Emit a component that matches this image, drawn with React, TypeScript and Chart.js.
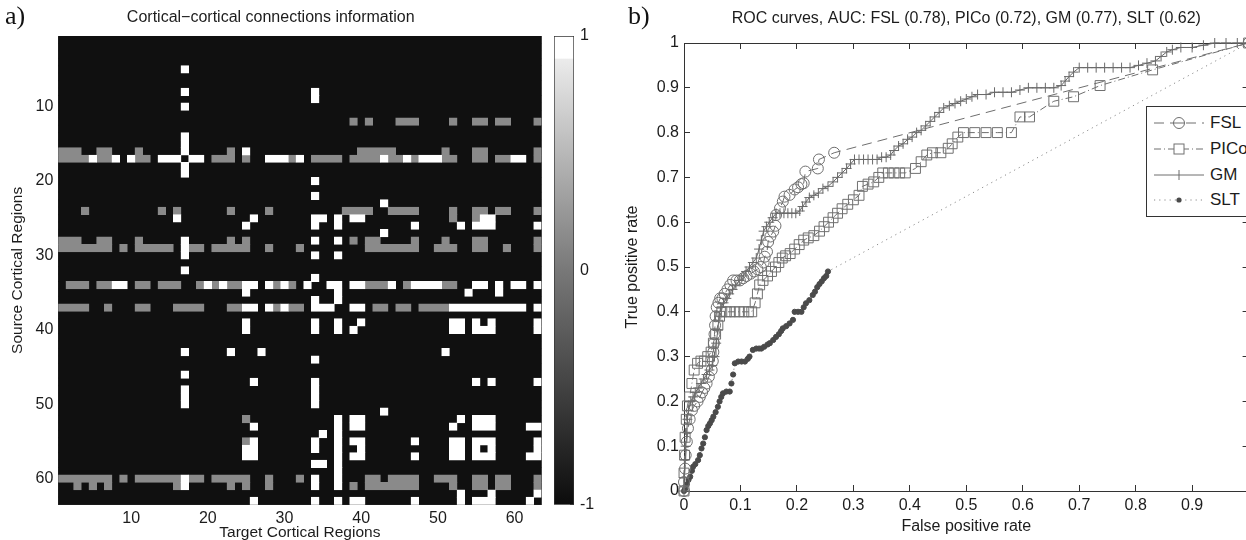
import React, { useEffect, useRef } from "react";
import { Chart, registerables } from "chart.js";

Chart.register(...registerables);

const SANS = '"Liberation Sans", Arial, Helvetica, sans-serif';
const TEXT = "#1c1c1c";

// ---------- Panel a: connection matrix ('.' = -1, 'g' = 0, 'w' = 1), rows = source, columns = target ----------
const E = ".......... .......... .......... .......... .......... .......... ...";
const heatRows: string[] = [
  E, // 1
  E, // 2
  E, // 3
  E, // 4
  ".......... ......w... .......... .......... .......... .......... ...", // 5
  E, // 6
  E, // 7
  ".......... ......w... .......... ...w...... .......... .......... ...", // 8
  ".......... .......... .......... ...w...... .......... .......... ...", // 9
  ".......... ......w... .......... .......... .......... .......... ...", // 10
  E, // 11
  ".......... .......... .......... ........g. g...ggg... .g..gg.gg. ..g", // 12
  E, // 13
  ".......... ......w... .......... .......... .......... .......... ...", // 14
  ".......... ......w... .......... .......... .......... .......... ...", // 15
  "ggg..gg... g.....w... ..g.w..... .........g gggg...... g...gg.... ..g", // 16
  "ggggwggw.w gg.www.ww. ggg.g..www gw.gggg.gg ggwggwgwww gg..gg.ggw w.g", // 17
  ".......... ......w... .......... .......... .......... .......... ...", // 18
  ".......... ......w... .......... .......... .......... .......... ...", // 19
  ".......... .......... .......... ...w...... .......... .......... ...", // 20
  E, // 21
  ".......... .......... .......... ...w...... .......... .......... ...", // 22
  ".......... .......... .......... .......... ..w....... .......... ...", // 23
  "...g...... ...g.g.... ..g....g.. .......ggg g..gggg... .g..gg.gg. ..g", // 24
  ".......... .....w.... .....w.... ...ww.w.ww .......... .g..gww... ...", // 25
  ".......... .......... ....w..... ...w..w... ......w... ..w.www... ..w", // 26
  ".......... .......... .......... .......... ..w....... .......... ...", // 27
  "ggg..gg... g.....w... ..g.g..... ...w..w.g. gg....g... g...gg.... ..g", // 28
  "ggggggg.g. ggggg.wgg. ggggg..g.. .g........ ggggggg..g gg..gg..g. ..g", // 29
  ".......... ......w... .......... ...w..w... .......... .......... ...", // 30
  E, // 31
  ".......... ......w... .......... .......... .......... .......... ...", // 32
  ".......... .......... .......... ...w...... .......... .......... ...", // 33
  ".ggg.ggww. gg.ggg..gw gwggww.wgw g.w..ww.ww gggw.gwwww gg..ww.w.w w.w", // 34
  ".......... .......... ....w..... ......w... .......... ...w...w.. ...", // 35
  ".......... .......... .......... ...w..w... .......... .......... ...", // 36
  "gggg..g... gg...gggg. ..ggww.wgw gg.www..ww .gg.gg.ggg gwwwwwwwww w.w", // 37
  E, // 38
  ".......... .......... ....w..... ...w..w..w .......... .ww.w.w... ..w", // 39
  ".......... .......... ....w..... ...w..w.w. .......... .ww.www... ..w", // 40
  E, // 41
  E, // 42
  ".......... ......w... ..w...w... .......... .......... w......... ...", // 43
  ".......... .......... .......... ...w...... .......... .......... ...", // 44
  E, // 45
  ".......... ......w... .......... .......... .......... .......... ...", // 46
  ".......... .......... .....w.... ...w...... .......... ....w.w... ..w", // 47
  ".......... ......w... .......... ...w...... .......... .......... ...", // 48
  ".......... ......w... .......... ...w...... .......... .......... ...", // 49
  ".......... ......w... .......... ...w...... .......... .......... ...", // 50
  ".......... .......... .......... .......... ..w....... .......... ...", // 51
  ".......... .......... ....g..... ......w.ww .......... ..w.www... ...", // 52
  ".......... .......... .....w.... ......w.ww .......... .w..www... .ww", // 53
  ".......... .......... .......... ....w.w... .......... .......... ...", // 54
  ".......... .......... ....gw.... ...w..w.ww ......w... .ww.www... ..w", // 55
  ".......... .......... ....ww.... ...w..w..w .......... .ww.w.w... ..w", // 56
  ".......... .......... ....ww.... ......w.ww ......w... .ww.www... .ww", // 57
  ".......... .......... .......... ...ww.w... .......... .......... ...", // 58
  ".......... .......... .......... ......w... .......... .......... ...", // 59
  "ggggggg.g. ggggggwgg. ggggg..g.. .g.w..w... gg.gggg..g gg..gg.gg. ..g", // 60
  "..g.g.g... .....gw... ..g.g..g.. ...w..w.g. ggggggg... .g..gg.gg. ..g", // 61
  ".......... .......... .......... .......... .......... ..w...w... ..w", // 62
  ".......... .......... .....w.... ...w..w.ww ......w... ..w.www... .w.", // 63
];
const heatTicks = [10, 20, 30, 40, 50, 60];
const colorbarTicks = [-1, -0.8, -0.6, -0.4, -0.2, 0, 0.2, 0.4, 0.6, 0.8, 1];
const colorbarLabelled = [-1, 0, 1];

// ---------- Panel b: ROC curves [false positive rate, true positive rate] ----------
const fslRoc: [number, number][] = [
  [0, 0], [0, 0.02], [0.002, 0.05], [0.003, 0.08], [0.005, 0.11], [0.007, 0.14], [0.01, 0.16],
  [0.014, 0.18], [0.018, 0.19], [0.024, 0.2], [0.028, 0.21], [0.032, 0.22], [0.036, 0.23],
  [0.04, 0.24], [0.044, 0.255], [0.049, 0.27], [0.051, 0.29], [0.052, 0.31], [0.053, 0.33],
  [0.054, 0.35], [0.055, 0.37], [0.056, 0.39], [0.058, 0.41], [0.061, 0.42], [0.064, 0.43],
  [0.068, 0.43], [0.072, 0.44], [0.077, 0.45], [0.082, 0.46], [0.087, 0.47], [0.093, 0.47],
  [0.099, 0.47], [0.105, 0.475], [0.111, 0.48], [0.118, 0.485], [0.124, 0.49], [0.13, 0.495],
  [0.136, 0.5], [0.141, 0.51], [0.143, 0.523], [0.147, 0.534], [0.149, 0.556], [0.153, 0.568],
  [0.158, 0.579], [0.162, 0.592], [0.163, 0.616], [0.17, 0.631], [0.175, 0.646], [0.178, 0.657],
  [0.187, 0.661], [0.196, 0.673], [0.202, 0.678], [0.208, 0.685], [0.212, 0.687], [0.215, 0.713],
  [0.237, 0.72], [0.239, 0.74], [0.266, 0.755], [1, 1],
];
const picoRoc: [number, number][] = [
  [0, 0], [0, 0.04], [0.001, 0.08], [0.002, 0.12], [0.004, 0.16], [0.006, 0.19], [0.01, 0.21],
  [0.014, 0.24], [0.018, 0.27], [0.024, 0.285], [0.03, 0.29], [0.036, 0.29], [0.042, 0.3],
  [0.048, 0.31], [0.052, 0.33], [0.056, 0.35], [0.06, 0.37], [0.063, 0.39], [0.067, 0.4],
  [0.075, 0.4], [0.082, 0.4], [0.09, 0.4], [0.098, 0.4], [0.106, 0.4], [0.114, 0.4], [0.12, 0.4],
  [0.126, 0.42], [0.13, 0.44], [0.134, 0.46], [0.14, 0.47], [0.148, 0.48], [0.155, 0.49],
  [0.162, 0.5], [0.168, 0.51], [0.174, 0.52], [0.18, 0.525], [0.188, 0.53], [0.196, 0.54],
  [0.204, 0.55], [0.212, 0.56], [0.22, 0.565], [0.23, 0.57], [0.24, 0.58], [0.248, 0.59],
  [0.256, 0.6], [0.264, 0.61], [0.272, 0.62], [0.28, 0.63], [0.29, 0.64], [0.3, 0.65],
  [0.31, 0.66], [0.316, 0.68], [0.326, 0.685], [0.336, 0.69], [0.345, 0.7], [0.352, 0.71],
  [0.362, 0.71], [0.372, 0.71], [0.382, 0.71], [0.392, 0.71], [0.41, 0.72], [0.42, 0.735],
  [0.43, 0.75], [0.44, 0.755], [0.455, 0.755], [0.468, 0.765], [0.475, 0.775], [0.485, 0.79],
  [0.495, 0.8], [0.515, 0.8], [0.535, 0.8], [0.555, 0.8], [0.58, 0.8], [0.595, 0.835],
  [0.612, 0.835], [0.655, 0.87], [0.69, 0.88], [0.737, 0.905], [0.83, 0.94], [1, 1],
];
const gmRoc: [number, number][] = [
  [0, 0], [0, 0.03], [0.002, 0.07], [0.003, 0.1], [0.005, 0.13], [0.006, 0.16], [0.008, 0.18],
  [0.012, 0.2], [0.016, 0.21], [0.02, 0.22], [0.025, 0.23], [0.03, 0.24], [0.035, 0.25],
  [0.04, 0.26], [0.045, 0.27], [0.05, 0.28], [0.054, 0.3], [0.057, 0.33], [0.06, 0.36],
  [0.062, 0.39], [0.065, 0.41], [0.07, 0.42], [0.075, 0.43], [0.08, 0.44], [0.086, 0.45],
  [0.092, 0.46], [0.098, 0.47], [0.105, 0.48], [0.11, 0.49], [0.116, 0.5], [0.122, 0.51],
  [0.128, 0.52], [0.133, 0.54], [0.137, 0.56], [0.141, 0.58], [0.146, 0.59], [0.151, 0.6],
  [0.157, 0.61], [0.163, 0.62], [0.17, 0.62], [0.177, 0.62], [0.184, 0.62], [0.191, 0.62],
  [0.198, 0.62], [0.205, 0.625], [0.21, 0.635], [0.216, 0.645], [0.222, 0.655], [0.23, 0.66],
  [0.238, 0.665], [0.246, 0.675], [0.255, 0.68], [0.264, 0.69], [0.272, 0.7], [0.28, 0.71],
  [0.288, 0.72], [0.295, 0.73], [0.302, 0.74], [0.31, 0.74], [0.318, 0.74], [0.326, 0.74],
  [0.334, 0.74], [0.342, 0.74], [0.35, 0.745], [0.358, 0.745], [0.366, 0.75], [0.372, 0.76],
  [0.38, 0.77], [0.388, 0.775], [0.396, 0.785], [0.404, 0.79], [0.412, 0.8], [0.42, 0.805],
  [0.428, 0.815], [0.436, 0.825], [0.444, 0.835], [0.452, 0.845], [0.46, 0.855], [0.47, 0.86],
  [0.48, 0.865], [0.49, 0.87], [0.5, 0.875], [0.51, 0.88], [0.52, 0.885], [0.535, 0.885],
  [0.55, 0.89], [0.565, 0.89], [0.58, 0.89], [0.595, 0.895], [0.61, 0.9], [0.625, 0.9],
  [0.64, 0.9], [0.655, 0.9], [0.668, 0.905], [0.675, 0.915], [0.682, 0.925], [0.69, 0.935],
  [0.7, 0.945], [0.715, 0.945], [0.73, 0.945], [0.745, 0.945], [0.76, 0.945], [0.775, 0.945],
  [0.79, 0.945], [0.805, 0.95], [0.82, 0.955], [0.835, 0.96], [0.845, 0.97], [0.855, 0.98],
  [0.865, 0.985], [0.88, 0.99], [0.9, 0.99], [0.92, 0.995], [0.94, 1], [0.96, 1], [0.98, 1], [1, 1],
];
const sltRoc: [number, number][] = [
  [0, 0], [0.002, 0.005], [0.005, 0.015], [0.008, 0.025], [0.011, 0.032], [0.014, 0.045],
  [0.016, 0.054], [0.02, 0.06], [0.025, 0.069], [0.028, 0.08], [0.031, 0.095], [0.034, 0.106],
  [0.037, 0.12], [0.04, 0.136], [0.043, 0.145], [0.046, 0.151], [0.049, 0.158], [0.052, 0.166],
  [0.056, 0.176], [0.06, 0.188], [0.063, 0.2], [0.066, 0.21], [0.069, 0.218], [0.075, 0.222],
  [0.081, 0.222], [0.084, 0.24], [0.087, 0.26], [0.09, 0.285], [0.096, 0.289], [0.102, 0.289],
  [0.108, 0.289], [0.113, 0.295], [0.116, 0.3], [0.122, 0.315], [0.128, 0.318], [0.133, 0.318],
  [0.137, 0.318], [0.142, 0.322], [0.148, 0.327], [0.152, 0.33], [0.158, 0.337], [0.163, 0.344],
  [0.168, 0.35], [0.172, 0.357], [0.175, 0.363], [0.181, 0.368], [0.187, 0.374], [0.193, 0.382],
  [0.196, 0.4], [0.202, 0.4], [0.208, 0.4], [0.212, 0.41], [0.216, 0.419], [0.222, 0.426],
  [0.228, 0.4375], [0.232, 0.445], [0.236, 0.455], [0.24, 0.462], [0.244, 0.468], [0.248, 0.475],
  [0.252, 0.48], [0.255, 0.49], [1, 1],
];
const rocTicks = [0, 0.1, 0.2, 0.3, 0.4, 0.5, 0.6, 0.7, 0.8, 0.9, 1];
const rocTitle = "ROC curves, AUC: FSL (0.78), PICo (0.72), GM (0.77), SLT (0.62)";

const CELL_COLORS: Record<string, string> = { w: "#ffffff", g: "#8a8a8a", ".": "#101010" };

function buildRuns(ch: string) {
  const out: { x: [number, number]; y: number }[] = [];
  heatRows.forEach((raw, ri) => {
    const row = raw.replace(/ /g, "").padEnd(63, ".").slice(0, 63);
    let c = 0;
    while (c < row.length) {
      if (row[c] !== ch) { c++; continue; }
      let e = c;
      while (e + 1 < row.length && row[e + 1] === ch) e++;
      out.push({ x: [c + 0.5, e + 1.5], y: ri + 1 });
      c = e + 1;
    }
  });
  return out;
}

const setTicks = (vals: number[]) => (s: any) => { s.ticks = vals.map((v) => ({ value: v })); };

function heatConfig(): any {
  const font = { family: SANS, size: 15.5 };
  return {
    type: "bar",
    data: {
      datasets: ["w", "g", "."].map((ch) => ({
        label: ch,
        data: buildRuns(ch),
        backgroundColor: CELL_COLORS[ch],
        borderColor: CELL_COLORS[ch],
        borderWidth: 1,
        borderSkipped: false,
        inflateAmount: 0.4,
      })),
    },
    options: {
      indexAxis: "y",
      animation: false,
      responsive: false,
      devicePixelRatio: 1,
      events: [],
      datasets: { bar: { grouped: false, barPercentage: 1, categoryPercentage: 1 } },
      layout: { padding: { left: 0, right: 58.6, top: 0, bottom: 0 } },
      plugins: {
        legend: { display: false },
        tooltip: { enabled: false },
        title: {
          display: true,
          text: "Cortical\u2212cortical connections information",
          color: TEXT,
          font: { family: SANS, size: 16, weight: "normal" },
          padding: { top: 8.4, bottom: 8.4 },
        },
      },
      scales: {
        x: {
          type: "linear", position: "bottom", min: 0.5, max: 63.5, offset: false,
          afterBuildTicks: setTicks(heatTicks),
          afterFit: (s: any) => { s.height = 35.3; },
          grid: { display: false, drawTicks: false },
          border: { display: true, color: "#3a3a3a" },
          ticks: { font: { ...font, size: 16 }, color: TEXT, padding: 4.5, maxRotation: 0, minRotation: 0, autoSkip: false },
          title: { display: true, text: "Target Cortical Regions", color: TEXT, font: { ...font, lineHeight: 1 }, padding: { top: 0, bottom: 0 } },
        },
        y: {
          type: "linear", position: "left", min: 0.5, max: 63.5, reverse: true, offset: false,
          afterBuildTicks: setTicks(heatTicks),
          afterFit: (s: any) => { s.width = 58.3; },
          grid: { display: false, drawTicks: false, offset: false },
          border: { display: true, color: "#3a3a3a" },
          ticks: { font: { ...font, size: 16 }, color: TEXT, padding: 5, autoSkip: false },
          title: { display: true, text: "Source Cortical Regions", color: TEXT, font, padding: { top: 8.7, bottom: 0 } },
        },
        x2: {
          type: "linear", position: "top", min: 0.5, max: 63.5,
          afterFit: (s: any) => { s.height = 0; },
          grid: { display: false, drawTicks: false },
          border: { display: true, color: "#555" },
          ticks: { display: false },
        },
        y2: {
          type: "linear", position: "right", min: 0.5, max: 63.5, reverse: true,
          afterFit: (s: any) => { s.width = 0; },
          grid: { display: false, drawTicks: false },
          border: { display: true, color: "#555" },
          ticks: { display: false },
        },
      },
    },
  };
}

function colorbarConfig(): any {
  return {
    type: "bar",
    data: {
      labels: ["colour"],
      datasets: [
        {
          data: [[-1, 1]],
          backgroundColor: (c: any) => {
            const { ctx, chartArea } = c.chart;
            if (!chartArea) return "#808080";
            const g = ctx.createLinearGradient(0, chartArea.bottom, 0, chartArea.top);
            g.addColorStop(0, "#0c0c0c");
            g.addColorStop(0.5, "#787878");
            g.addColorStop(0.95, "#ebebeb");
            g.addColorStop(0.953, "#ffffff");
            g.addColorStop(1, "#ffffff");
            return g;
          },
          borderColor: "#333",
          borderWidth: 1,
          borderSkipped: false,
          barPercentage: 1,
          categoryPercentage: 1,
        },
      ],
    },
    options: {
      animation: false,
      responsive: false,
      devicePixelRatio: 1,
      events: [],
      layout: { padding: { left: 9, right: 0, top: 36, bottom: 35.3 } },
      plugins: { legend: { display: false }, tooltip: { enabled: false } },
      scales: {
        x: { display: false },
        y: {
          type: "linear", position: "right", min: -1, max: 1,
          afterBuildTicks: setTicks(colorbarTicks),
          afterFit: (s: any) => { s.width = 46; },
          grid: { drawOnChartArea: false, drawTicks: true, tickLength: -4, color: "#444" },
          border: { display: false },
          ticks: {
            font: { family: SANS, size: 16 }, color: TEXT, padding: 10, autoSkip: false,
            callback: (v: number) => (colorbarLabelled.includes(v) ? String(v) : ""),
          },
        },
      },
    },
  };
}

function rocConfig(): any {
  const font = { family: SANS, size: 16 };
  const pts = (arr: [number, number][]) => arr.map(([x, y]) => ({ x, y }));
  const common = { showLine: true, borderWidth: 1, pointBorderWidth: 1, clip: false, fill: false };
  const inward = { drawOnChartArea: false, drawTicks: true, tickLength: -6, color: "#333" };
  return {
    type: "scatter",
    data: {
      datasets: [
        { ...common, label: "FSL", data: pts(fslRoc), borderColor: "#6e6e6e", borderDash: [10, 6],
          pointStyle: "circle", pointRadius: 5.5, pointBorderColor: "#6e6e6e", pointBackgroundColor: "rgba(0,0,0,0)" },
        { ...common, label: "PICo", data: pts(picoRoc), borderColor: "#6e6e6e", borderDash: [7, 3, 1, 3],
          pointStyle: "rect", pointRadius: 7, pointBorderColor: "#707070", pointBackgroundColor: "rgba(0,0,0,0)" },
        { ...common, label: "GM", data: pts(gmRoc), borderColor: "#666",
          pointStyle: "cross", pointRadius: 5, pointBorderColor: "#6a6a6a" },
        { ...common, label: "SLT", data: pts(sltRoc), borderColor: "#8a8a8a", borderDash: [1.2, 4],
          pointStyle: "circle", pointRadius: 2.6, pointBorderColor: "#4a4a4a", pointBackgroundColor: "#4a4a4a" },
      ],
    },
    options: {
      animation: false,
      responsive: false,
      devicePixelRatio: 1,
      events: [],
      layout: { padding: { left: 0, right: 9.3, top: 0, bottom: 0 } },
      plugins: {
        legend: { display: false },
        tooltip: { enabled: false },
        title: {
          display: true, fullSize: false, text: rocTitle, color: TEXT,
          font: { family: SANS, size: 16, weight: "normal" },
          padding: { top: 9.4, bottom: 14.4 },
        },
      },
      scales: {
        x: {
          type: "linear", position: "bottom", min: 0, max: 1,
          afterBuildTicks: setTicks(rocTicks),
          afterFit: (s: any) => { s.height = 49; },
          grid: inward,
          border: { display: true, color: "#333" },
          ticks: { font, color: TEXT, padding: 11.4, maxRotation: 0, minRotation: 0, autoSkip: false,
            callback: (v: number) => (v === 1 ? "" : String(v)) },
          title: { display: true, text: "False positive rate", color: TEXT, font, padding: { top: 0, bottom: 3.6 } },
        },
        y: {
          type: "linear", position: "left", min: 0, max: 1,
          afterBuildTicks: setTicks(rocTicks),
          afterFit: (s: any) => { s.width = 64; },
          grid: inward,
          border: { display: true, color: "#333" },
          ticks: { font, color: TEXT, padding: 11, autoSkip: false, callback: (v: number) => String(v) },
          title: { display: true, text: "True positive rate", color: TEXT, font, padding: { top: 3.4, bottom: 0 } },
        },
        x2: {
          type: "linear", position: "top", min: 0, max: 1,
          afterBuildTicks: setTicks(rocTicks),
          afterFit: (s: any) => { s.height = 0; },
          grid: inward,
          border: { display: true, color: "#333" },
          ticks: { display: false },
        },
        y2: {
          type: "linear", position: "right", min: 0, max: 1,
          afterBuildTicks: setTicks(rocTicks),
          afterFit: (s: any) => { s.width = 0; },
          grid: inward,
          border: { display: true, color: "#333" },
          ticks: { display: false },
        },
      },
    },
  };
}

const legendItems = [
  { label: "FSL", dash: "10 6", marker: "circle" },
  { label: "PICo", dash: "7 3 1 3", marker: "rect" },
  { label: "GM", dash: "", marker: "cross" },
  { label: "SLT", dash: "1.2 4", marker: "dot" },
];

function LegendSample({ dash, marker }: { dash: string; marker: string }) {
  const cx = 32, cy = 13;
  return (
    <svg width={60} height={26} style={{ display: "block" }}>
      <line x1={7} y1={cy} x2={57} y2={cy} stroke={marker === "dot" ? "#8a8a8a" : "#6e6e6e"} strokeWidth={1} strokeDasharray={dash || undefined} />
      {marker === "circle" && <circle cx={cx} cy={cy} r={5.5} fill="#fff" stroke="#6e6e6e" strokeWidth={1} />}
      {marker === "circle" && <line x1={cx - 5.5} y1={cy} x2={cx + 5.5} y2={cy} stroke="#6e6e6e" strokeWidth={1} />}
      {marker === "rect" && <rect x={cx - 5} y={cy - 5} width={10} height={10} fill="#fff" stroke="#707070" strokeWidth={1} />}
      {marker === "cross" && <line x1={cx} y1={cy - 5} x2={cx} y2={cy + 5} stroke="#6a6a6a" strokeWidth={1} />}
      {marker === "dot" && <circle cx={cx} cy={cy} r={2.6} fill="#4a4a4a" />}
    </svg>
  );
}

export default function App() {
  const heatRef = useRef<HTMLCanvasElement>(null);
  const cbRef = useRef<HTMLCanvasElement>(null);
  const rocRef = useRef<HTMLCanvasElement>(null);

  useEffect(() => {
    const charts: Chart[] = [];
    if (heatRef.current) charts.push(new Chart(heatRef.current, heatConfig()));
    if (cbRef.current) charts.push(new Chart(cbRef.current, colorbarConfig()));
    if (rocRef.current) charts.push(new Chart(rocRef.current, rocConfig()));
    return () => charts.forEach((c) => c.destroy());
  }, []);

  const panelLabel: React.CSSProperties = {
    position: "absolute", top: 3, font: '26px "Liberation Serif", "Times New Roman", serif', lineHeight: "26px", color: "#111",
  };

  return (
    <div style={{ position: "fixed", left: 0, top: 0, width: 1246, height: 540, overflow: "hidden", background: "#fff" }}>
      <canvas ref={heatRef} width={600} height={540} style={{ position: "absolute", left: 0, top: 0, width: 600, height: 540 }} />
      <canvas ref={cbRef} width={75} height={540} style={{ position: "absolute", left: 545, top: 0, width: 75, height: 540 }} />
      <canvas ref={rocRef} width={640} height={540} style={{ position: "absolute", left: 620, top: 0, width: 640, height: 540 }} />
      <div style={{ ...panelLabel, left: 5 }}>a)</div>
      <div style={{ ...panelLabel, left: 628 }}>b)</div>
      <div style={{ position: "absolute", left: 1146, top: 106, width: 140, height: 111, border: "1px solid #333", background: "#fff", boxSizing: "border-box" }}>
        {legendItems.map((it, i) => (
          <div key={it.label} style={{ position: "absolute", left: 0, top: 3 + i * 25.8, height: 26, display: "flex", alignItems: "center" }}>
            <LegendSample dash={it.dash} marker={it.marker} />
            <span style={{ font: `17px ${SANS}`, color: TEXT, marginLeft: 3, lineHeight: "26px" }}>{it.label}</span>
          </div>
        ))}
      </div>
    </div>
  );
}
